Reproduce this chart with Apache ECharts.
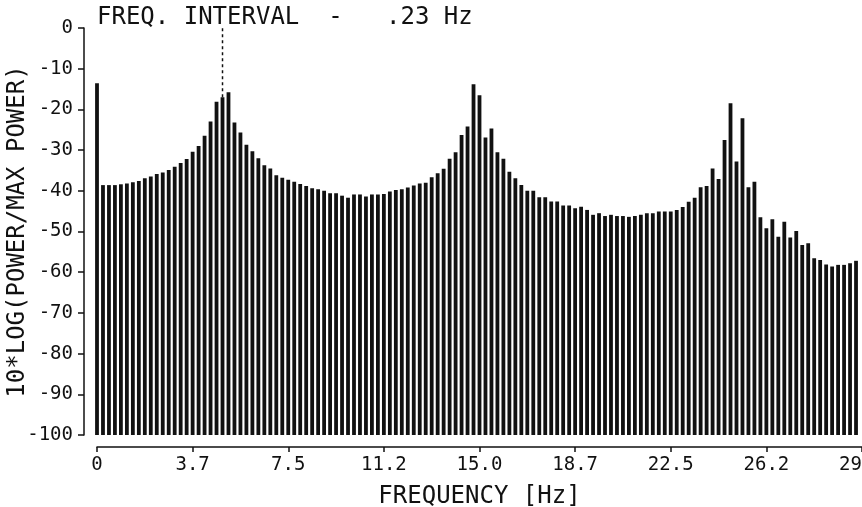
<!DOCTYPE html>
<html>
<head>
<meta charset="utf-8">
<script src="https://cdn.jsdelivr.net/npm/echarts@6/dist/echarts.min.js"></script>
<style>
  html, body { margin: 0; padding: 0; background: #fff; }
  #chart { width: 862px; height: 507px; }
</style>
</head>
<body>
<div id="chart"></div>
<script>
// ---- data ----
const freqStepHz = 30 / 128;            // plotted as "FREQ. INTERVAL - .23 Hz"
const powerDb = [
  -13.6, -38.6, -38.6, -38.6, -38.4, -38.2, -37.9, -37.6, -36.9, -36.5,
  -35.9, -35.5, -34.9, -34.1, -33.2, -32.2, -30.4, -29.0, -26.5, -23.0,
  -18.1, -17.0, -15.8, -23.2, -25.7, -28.7, -30.3, -32.0, -33.7, -34.5,
  -36.2, -36.8, -37.3, -37.8, -38.3, -38.8, -39.4, -39.6, -40.0, -40.6,
  -40.6, -41.2, -41.7, -40.9, -40.9, -41.4, -40.9, -40.9, -40.8, -40.2,
  -39.8, -39.6, -39.2, -38.7, -38.2, -38.0, -36.7, -35.7, -34.6, -32.1,
  -30.5, -26.3, -24.2, -13.8, -16.5, -26.9, -24.7, -30.5, -32.1, -35.3,
  -36.9, -38.6, -40.0, -40.0, -41.6, -41.6, -42.6, -42.6, -43.6, -43.6,
  -44.3, -43.9, -44.7, -45.9, -45.5, -46.2, -45.9, -46.2, -46.2, -46.4,
  -46.2, -45.9, -45.5, -45.5, -45.1, -45.1, -45.1, -44.7, -44.0, -42.7,
  -41.7, -39.1, -38.8, -34.5, -37.1, -27.5, -18.5, -32.8, -22.2, -39.1,
  -37.8, -46.5, -49.2, -47.0, -51.3, -47.6, -51.5, -49.9, -53.3, -52.9,
  -56.6, -57.0, -58.1, -58.6, -58.2, -58.2, -57.8, -57.2
];
const xTickLabels = ['0', '3.7', '7.5', '11.2', '15.0', '18.7', '22.5', '26.2', '29.9'];
const markerBin = 21;      // dotted marker line above this bin
const markerTopDb = 0;

const freqs = powerDb.map((_, i) => i * freqStepHz);
const barData = freqs.map((f, i) => [f, powerDb[i]]);

const font = 'DejaVu Sans Mono';
const chart = echarts.init(document.getElementById('chart'), null, { renderer: 'canvas' });
chart.setOption({
  animation: false,
  backgroundColor: '#fff',
  title: {
    text: 'FREQ. INTERVAL  -   .23 Hz',
    left: 97, top: 6, padding: 0,
    textStyle: { fontFamily: font, fontSize: 24, fontWeight: 'normal', color: '#111' }
  },
  grid: { left: 97, right: 0, top: 28, bottom: 72, outerBoundsMode: 'none', containLabel: false },
  xAxis: {
    type: 'value', min: 0, max: 30, interval: 3.75,
    offset: 12,
    name: 'FREQUENCY [Hz]', nameLocation: 'middle', nameGap: 38,
    nameTextStyle: { fontFamily: font, fontSize: 24, color: '#111' },
    axisLine: { show: true, onZero: false, lineStyle: { color: '#111', width: 1.5 } },
    axisTick: { show: true, inside: false, length: 5, lineStyle: { color: '#111', width: 1.5 } },
    axisLabel: {
      fontFamily: font, fontSize: 19, color: '#111', margin: 9,
      formatter: v => xTickLabels[Math.round(v / 3.75)]
    },
    splitLine: { show: false }
  },
  yAxis: {
    type: 'value', min: -100, max: 0, interval: 10,
    offset: 13,
    name: '10*LOG(POWER/MAX POWER)', nameLocation: 'middle', nameGap: 54,
    nameMoveOverlap: false,
    nameTextStyle: { fontFamily: font, fontSize: 24, color: '#111' },
    axisLine: { show: true, onZero: false, lineStyle: { color: '#111', width: 1.5 } },
    axisTick: { show: true, inside: false, length: 6, lineStyle: { color: '#111', width: 1.5 } },
    axisLabel: { fontFamily: font, fontSize: 19, color: '#111', margin: 11 },
    splitLine: { show: false }
  },
  series: [
    {
      type: 'custom',
      clip: false,
      data: barData,
      encode: { x: 0, y: 1 },
      renderItem: function (params, api) {
        const f = api.value(0), v = api.value(1);
        const top = api.coord([f, v]);
        const base = api.coord([f, -100]);
        const w = 3.8;
        return {
          type: 'rect',
          shape: { x: top[0] - w / 2, y: top[1], width: w, height: base[1] - top[1] },
          style: { fill: '#111' }
        };
      }
    },
    {
      type: 'line',
      symbol: 'none',
      data: [[freqs[markerBin], powerDb[markerBin]], [freqs[markerBin], markerTopDb]],
      lineStyle: { color: '#111', width: 1.5, type: [3, 3] }
    }
  ]
});
</script>
</body>
</html>
